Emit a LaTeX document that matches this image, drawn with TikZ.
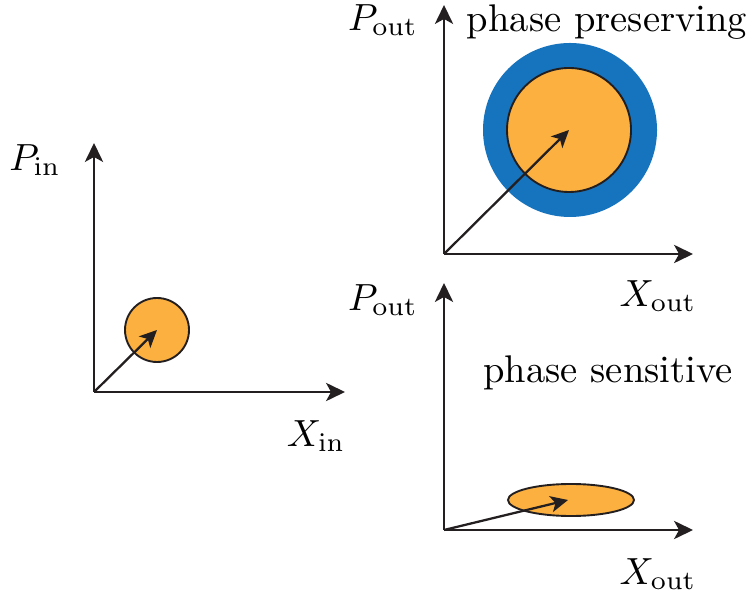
\documentclass[tikz,border=0pt]{standalone}
\usetikzlibrary{arrows.meta,shapes.geometric}
\definecolor{blobfill}{HTML}{FBB040}
\definecolor{ringblue}{HTML}{1673BD}
\definecolor{axisgray}{HTML}{231F20}
\begin{document}
\begin{tikzpicture}[x=0.2645pt,y=-0.2645pt,
  axis/.style={draw=axisgray,line width=0.65pt,-{Stealth[length=5pt,width=4.8pt,inset=1.3pt]}},
  vec/.style={draw=axisgray,line width=0.6pt,-{Stealth[length=4.6pt,width=4.3pt,inset=1.2pt]}},
  blob/.style={fill=blobfill,draw=axisgray,line width=0.5pt,inner sep=0pt},
  lbl/.style={inner sep=0pt,font=\fontsize{10.2}{12}\selectfont}]
\useasboundingbox (0,0) rectangle (748,597);
% left panel
\coordinate (o1) at (94,392);
\coordinate (y1) at (94,143);
\coordinate (x1) at (345,392);
\node[blob,circle,minimum size=64*0.2645pt] (c1) at (157,330) {};
\draw[axis] (o1) -- (y1);
\draw[axis] (o1) -- (x1);
\draw[vec] (o1) -- (c1.center);
\node[lbl] (pin) at (35,160) {$P_{\mathrm{in}}$};
\node[lbl] (xin) at (316,436) {$X_{\mathrm{in}}$};
% top right panel
\coordinate (o2) at (444,254);
\coordinate (y2) at (444,5);
\coordinate (x2) at (693,254);
\node[circle,fill=ringblue,minimum size=174*0.2645pt,inner sep=0pt] (ring) at (570,130) {};
\node[blob,circle,minimum size=124*0.2645pt] (c2) at (569,130) {};
\draw[axis] (o2) -- (y2);
\draw[axis] (o2) -- (x2);
\draw[vec] (o2) -- (c2.center);
\node[lbl] (pout1) at (383,20) {$P_{\mathrm{out}}$};
\node[lbl] (xout1) at (658,296) {$X_{\mathrm{out}}$};
\node[lbl,anchor=base] (pp) at (607,32) {phase preserving};
% bottom right panel
\coordinate (o3) at (444,530);
\coordinate (y3) at (444,283);
\coordinate (x3) at (693,530);
\node[blob,ellipse,minimum width=126*0.2645pt,minimum height=32*0.2645pt] (c3) at (571,500) {};
\draw[axis] (o3) -- (y3);
\draw[axis] (o3) -- (x3);
\draw[vec] (o3) -- (568,500);
\node[lbl] (pout2) at (383,300) {$P_{\mathrm{out}}$};
\node[lbl] (xout2) at (658,574) {$X_{\mathrm{out}}$};
\node[lbl,anchor=base] (ps) at (608,383) {phase sensitive};
\end{tikzpicture}
\end{document}
